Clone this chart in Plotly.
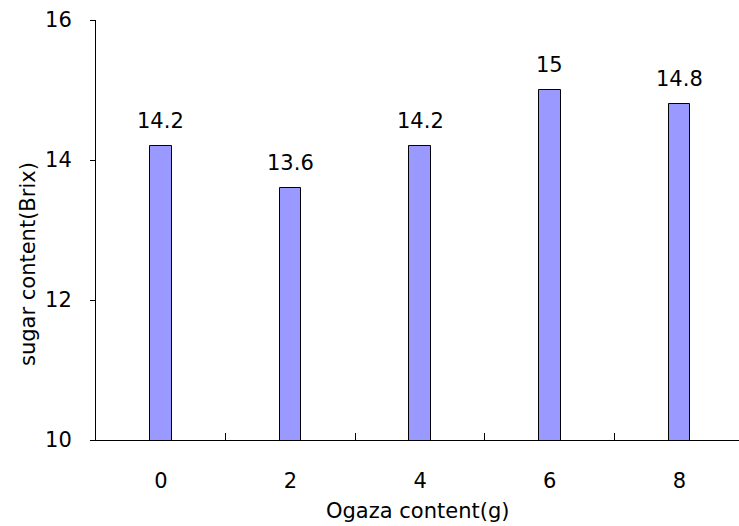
import plotly.graph_objects as go

# Sugar content (Brix) measured for each Ogaza amount (g)
categories = ["0", "2", "4", "6", "8"]
sugar_brix = [14.2, 13.6, 14.2, 15.0, 14.8]
y_ticks = [10, 12, 14, 16]

FONT = "DejaVu Sans"
W, H = 739, 526
L, R, T, B = 96, 0, 20, 86

fig = go.Figure()
fig.add_trace(go.Bar(
    x=categories,
    y=sugar_brix,
    width=0.167,
    marker=dict(color="#9999ff", line=dict(color="#000000", width=1)),
    showlegend=False,
))

# value labels above each bar (category axis: position by index)
for i, v in enumerate(sugar_brix):
    fig.add_annotation(
        x=i, y=v, text=f"{v:g}", showarrow=False,
        yanchor="bottom", xanchor="center", yshift=11,
        font=dict(family=FONT, size=21, color="#000000"),
    )

# axis titles
fig.add_annotation(
    text="sugar content(Brix)", xref="paper", yref="paper",
    x=(28 - L) / (W - L - R), y=(440 - 264) / (H - T - B),
    xanchor="center", yanchor="middle", textangle=-90, showarrow=False,
    font=dict(family=FONT, size=21, color="#000000"),
)
fig.add_annotation(
    text="Ogaza content(g)", xref="paper", yref="paper",
    x=(417 - L) / (W - L - R), y=(440 - 511) / (H - T - B),
    xanchor="center", yanchor="middle", showarrow=False,
    font=dict(family=FONT, size=21, color="#000000"),
)

fig.update_layout(
    width=W, height=H,
    margin=dict(l=L, r=R, t=T, b=B, pad=0),
    paper_bgcolor="white", plot_bgcolor="white",
    font=dict(family=FONT, size=21, color="#000000"),
    bargap=0,
)
fig.update_xaxes(
    type="category", range=[-0.5, 4.46],
    showline=True, linecolor="#000000", linewidth=1,
    showgrid=False, zeroline=False,
    ticks="inside", ticklen=7, tickcolor="#000000", tickwidth=1,
    tickson="boundaries", ticklabelstandoff=22,
    tickfont=dict(family=FONT, size=21, color="#000000"),
)
fig.update_yaxes(
    range=[10, 16], tickvals=y_ticks,
    showline=True, linecolor="#000000", linewidth=1,
    showgrid=False, zeroline=False,
    ticks="outside", ticklen=5, tickcolor="#000000", tickwidth=1,
    ticklabelstandoff=14,
    tickfont=dict(family=FONT, size=21, color="#000000"),
)

fig.write_html("out.html")
